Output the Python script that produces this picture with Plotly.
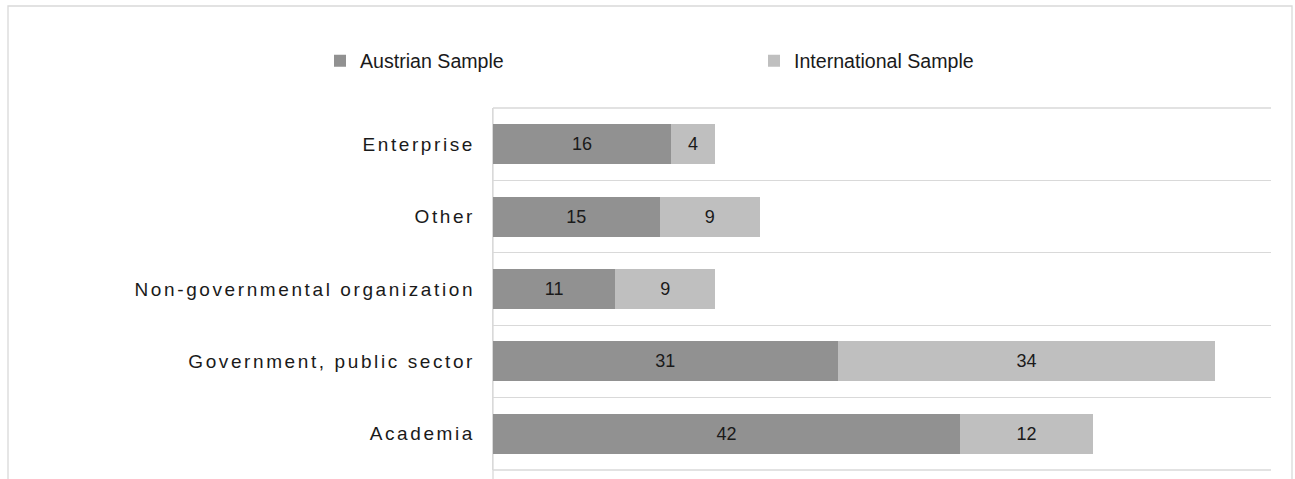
import plotly.graph_objects as go

categories = ["Enterprise", "Other", "Non-governmental organization",
              "Government, public sector", "Academia"]
austrian = [16, 15, 11, 31, 42]
international = [4, 9, 9, 34, 12]

FONT = "Liberation Sans, Arial, sans-serif"
W, H = 1295, 479
L, R, T, B = 493, 24, 108, 9
pw, ph = W - L - R, H - T - B
GRID = "#d9d9d9"

fig = go.Figure()
fig.add_trace(go.Bar(
    y=categories, x=austrian, orientation="h", name="Austrian Sample",
    marker=dict(color="#919191", line=dict(width=0)),
    text=austrian, textposition="inside", insidetextanchor="middle",
    textfont=dict(family=FONT, size=18, color="#1a1a1a"),
    constraintext="none", hoverinfo="x+y+name",
))
fig.add_trace(go.Bar(
    y=categories, x=international, orientation="h", name="International Sample",
    marker=dict(color="#bfbfbf", line=dict(width=0)),
    text=international, textposition="inside", insidetextanchor="middle",
    textfont=dict(family=FONT, size=18, color="#1a1a1a"),
    constraintext="none", hoverinfo="x+y+name",
))

# outer chart border
fig.add_shape(type="rect", xref="paper", yref="paper",
              x0=(8 - L) / pw, x1=(1292 - L) / pw,
              y0=-(30) / ph, y1=1 + (T - 6) / ph,
              line=dict(color=GRID, width=1.3), layer="below")
# top and bottom boundary grid lines
for yy in (0, 1):
    fig.add_shape(type="line", xref="paper", yref="paper",
                  x0=0, x1=1, y0=yy, y1=yy,
                  line=dict(color=GRID, width=1.3), layer="below")
# vertical category axis line continuing to the bottom edge
fig.add_shape(type="line", xref="paper", yref="paper",
              x0=0, x1=0, y0=-30 / ph, y1=1,
              line=dict(color=GRID, width=1.3), layer="below")

fig.update_layout(
    width=W, height=H,
    margin=dict(l=L, r=R, t=T, b=B, pad=0),
    barmode="stack", bargap=0.445,
    plot_bgcolor="white", paper_bgcolor="white",
    font=dict(family=FONT, size=19, color="#1a1a1a"),
    showlegend=True,
    legend=dict(orientation="h", x=(320 - L) / pw, xanchor="left",
                y=1 + (T - 61) / ph, yanchor="middle",
                entrywidth=389, entrywidthmode="pixels",
                font=dict(family=FONT, size=19.6, color="#1a1a1a"),
                traceorder="normal", itemclick=False, itemdoubleclick=False),
    xaxis=dict(range=[0, 70], showgrid=False, zeroline=False,
               showticklabels=False, showline=False, fixedrange=True),
    yaxis=dict(autorange="reversed", tickson="boundaries",
               showgrid=True, gridcolor=GRID, gridwidth=1.3,
               showline=True, linecolor=GRID, linewidth=1.3,
               ticks="", ticklabelstandoff=13,
               tickfont=dict(family=FONT, size=19, color="#1a1a1a"),
               fixedrange=True),
)

post = """
document.body.style.margin = '0';
var gd = document.getElementById('{plot_id}');
function ls(){
  gd.querySelectorAll('.ytick text').forEach(function(t){ t.style.letterSpacing='2.6px'; });
}
ls();
gd.on('plotly_afterplot', ls);
"""
fig.write_html("out.html", post_script=post,
               config={"displayModeBar": False})
